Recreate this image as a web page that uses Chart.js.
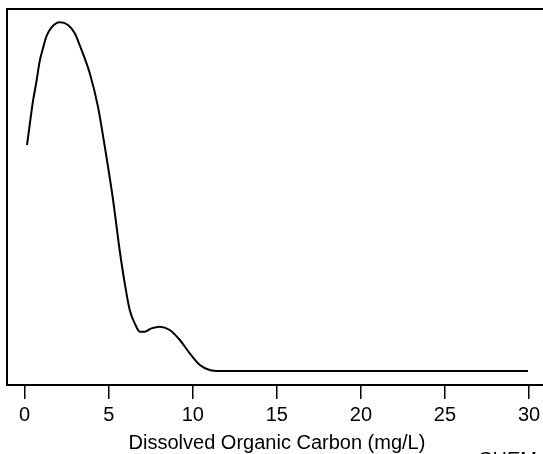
<!DOCTYPE html>
<html>
<head>
<meta charset="utf-8">
<script src="https://cdn.jsdelivr.net/npm/chart.js@4/dist/chart.umd.min.js"></script>
<style>
  html, body { margin: 0; padding: 0; background: #fff; overflow: hidden; }
  #wrap { width: 560px; height: 454px; }
</style>
</head>
<body>
<div id="wrap"><canvas id="docDensity" width="560" height="454"></canvas></div>
<script>
// DOC concentration (mg/L) and density estimate
var docValues = [0.14, 0.30, 0.49, 0.70, 0.89, 1.09, 1.29, 1.59, 2.08, 2.58, 2.98, 3.27, 3.87, 4.36, 4.76, 5.26, 5.65, 5.95, 6.25, 6.55, 6.85, 7.14, 7.54, 8.04, 8.63, 9.23, 9.82, 10.42, 11.01, 11.61, 15, 20, 25, 29.94];
var density = [0.1356, 0.1476, 0.1616, 0.1736, 0.1856, 0.1936, 0.2006, 0.2060, 0.2092, 0.2076, 0.2026, 0.1956, 0.1788, 0.1586, 0.1350, 0.1026, 0.0726, 0.0528, 0.0366, 0.0286, 0.0236, 0.0236, 0.0256, 0.0266, 0.0246, 0.0186, 0.0106, 0.0036, 0.0006, 0, 0, 0, 0, 0];
var xTicks = [0, 5, 10, 15, 20, 25, 30];
var xTitle = "Dissolved Organic Carbon (mg/L)";
var cornerNote = "CHEM";

var FONT = "Arial, 'Liberation Sans', sans-serif";

var boxPlugin = {
    id: 'boxPlugin',
    afterDraw: function (chart) {
        var ctx = chart.ctx, a = chart.chartArea;
        ctx.save();
        ctx.strokeStyle = '#000';
        ctx.lineWidth = 2;
        ctx.strokeRect(a.left, a.top, a.right - a.left, a.bottom - a.top);
        ctx.fillStyle = '#000';
        ctx.font = '20px ' + FONT;
        ctx.textAlign = 'center';
        ctx.textBaseline = 'alphabetic';
        ctx.fillText(xTitle, 277, 449);
        ctx.textAlign = 'left';
        ctx.fillText(cornerNote, 478, 466);
        ctx.restore();
    }
};

new Chart("docDensity", {
    type: 'line',
    data: {
        datasets: [{
            data: docValues.map(function (v, i) { return { x: v, y: density[i] }; }),
            borderColor: '#000',
            borderWidth: 2,
            pointRadius: 0,
            fill: false,
            cubicInterpolationMode: 'monotone'
        }]
    },
    options: {
        responsive: false,
        animation: false,
        devicePixelRatio: 1,
        layout: { padding: { left: 7, top: 9, right: 12, bottom: 0 } },
        plugins: { legend: { display: false }, tooltip: { enabled: false }, title: { display: false } },
        scales: {
            x: {
                type: 'linear',
                min: -1.05,
                max: 31.13,
                afterBuildTicks: function (scale) {
                    scale.ticks = xTicks.map(function (v) { return { value: v }; });
                },
                afterFit: function (scale) { scale.height = 69; },
                border: { display: false },
                grid: { drawOnChartArea: false, drawTicks: true, tickLength: 14, color: '#000', lineWidth: 1.5 },
                ticks: { color: '#000', padding: 4, maxRotation: 0, autoSkip: false, font: { size: 20, family: FONT } }
            },
            y: {
                display: false,
                min: -0.0084,
                max: 0.2172
            }
        }
    },
    plugins: [boxPlugin]
});
</script>
</body>
</html>
